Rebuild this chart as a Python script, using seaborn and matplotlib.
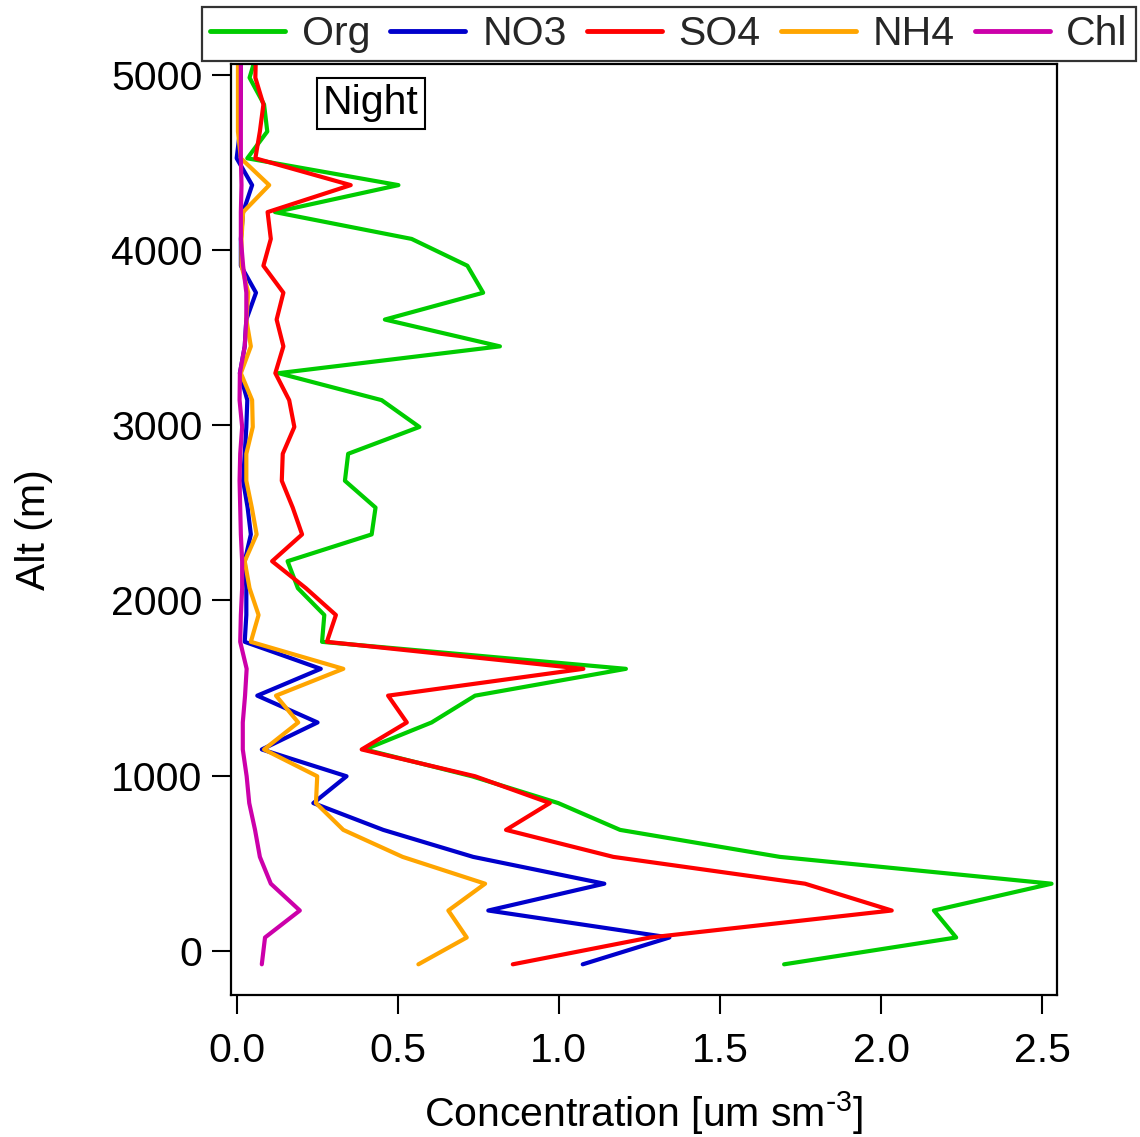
import matplotlib
matplotlib.use("Agg")
import matplotlib.pyplot as plt
import seaborn as sns
import pandas as pd

# Altitude of each profile level (m)
alt = [-76, 77, 231, 384, 537, 691, 844, 997, 1150, 1304, 1457, 1610, 1764, 1917,
       2070, 2224, 2377, 2530, 2683, 2837, 2990, 3143, 3297, 3450, 3603, 3756,
       3910, 4063, 4216, 4370, 4523, 4676, 4830, 4983, 5136]

org = [1.699, 2.233, 2.164, 2.529, 1.686, 1.190, 0.998, 0.730, 0.398, 0.605, 0.740,
       1.208, 0.265, 0.272, 0.190, 0.158, 0.419, 0.431, 0.336, 0.346, 0.567, 0.450,
       0.130, 0.817, 0.460, 0.765, 0.716, 0.543, 0.119, 0.502, 0.033, 0.095, 0.085,
       0.040, 0.065]
no3 = [1.074, 1.343, 0.781, 1.141, 0.734, 0.455, 0.238, 0.341, 0.078, 0.251, 0.064,
       0.261, 0.025, 0.030, 0.030, 0.025, 0.044, 0.034, 0.020, 0.025, 0.030, 0.033,
       0.010, 0.025, 0.030, 0.060, 0.013, 0.013, 0.020, 0.048, 0.000, 0.010, 0.012,
       0.013, 0.013]
so4 = [0.857, 1.283, 2.033, 1.764, 1.169, 0.836, 0.972, 0.740, 0.388, 0.528, 0.470,
       1.076, 0.280, 0.308, 0.215, 0.110, 0.203, 0.174, 0.140, 0.143, 0.179, 0.163,
       0.120, 0.145, 0.124, 0.145, 0.083, 0.106, 0.096, 0.354, 0.058, 0.072, 0.083,
       0.058, 0.060]
nh4 = [0.564, 0.714, 0.657, 0.771, 0.515, 0.331, 0.246, 0.250, 0.085, 0.191, 0.122,
       0.331, 0.044, 0.068, 0.040, 0.025, 0.062, 0.047, 0.030, 0.030, 0.050, 0.048,
       0.013, 0.044, 0.030, 0.036, 0.015, 0.015, 0.020, 0.101, 0.013, 0.004, 0.004,
       0.004, 0.004]
chl = [0.078, 0.088, 0.196, 0.106, 0.072, 0.057, 0.039, 0.031, 0.019, 0.019, 0.026,
       0.031, 0.011, 0.013, 0.017, 0.017, 0.013, 0.011, 0.009, 0.011, 0.017, 0.009,
       0.010, 0.025, 0.030, 0.030, 0.020, 0.013, 0.013, 0.015, 0.013, 0.013, 0.013,
       0.013, 0.013]

species = ["Org", "NO3", "SO4", "NH4", "Chl"]
colors = ["#00CC00", "#0000CC", "#FF0000", "#FFA500", "#CC00AA"]
series = [org, no3, so4, nh4, chl]

xticks = [0.0, 0.5, 1.0, 1.5, 2.0, 2.5]
yticks = [0, 1000, 2000, 3000, 4000, 5000]

rows = []
for name, vals in zip(species, series):
    for a, v in zip(alt, vals):
        rows.append({"Alt": a, "Conc": v, "Species": name})
df = pd.DataFrame(rows)

sns.set_theme(style="white")
plt.rcParams["font.family"] = ["Liberation Sans", "DejaVu Sans"]
plt.rcParams["mathtext.default"] = "regular"

FS = 29.5
fig = plt.figure(figsize=(11.4, 11.37), dpi=100)
ax = fig.add_axes([0.2026, 0.1249, 0.7246, 0.8188])

sns.lineplot(data=df, x="Conc", y="Alt", hue="Species", hue_order=species,
             palette=dict(zip(species, colors)), sort=False, estimator=None,
             orient="y", linewidth=3.0, ax=ax, legend=True)

ax.set_xlim(-0.0177, 2.546)
ax.set_ylim(-251, 5061)
ax.set_xticks(xticks)
ax.set_xticklabels([f"{t:.1f}" for t in xticks])
ax.set_yticks(yticks)
ax.set_yticklabels([str(t) for t in yticks])

for s in ax.spines.values():
    s.set_color("black")
    s.set_linewidth(1.6)
ax.tick_params(axis="both", which="major", direction="out", length=13.5, width=1.5,
               color="black", labelsize=FS, labelcolor="black")
ax.tick_params(axis="x", pad=13)
ax.tick_params(axis="y", pad=7)
ax.tick_params(top=False, right=False, bottom=True, left=True)

ax.set_xlabel(r"Concentration [um sm$^{\text{-}3}$]", fontsize=FS, color="black")
ax.set_ylabel("Alt (m)", fontsize=FS, color="black")
ax.xaxis.set_label_coords(0.5, -0.101)
ax.yaxis.set_label_coords(-0.215, 0.5)

ax.text(0.1695, 0.958, "Night", transform=ax.transAxes, fontsize=FS,
        ha="center", va="center", color="black",
        bbox=dict(boxstyle="square,pad=0.16", fc="white", ec="black", lw=1.5))

ax.get_legend().remove()
handles, labels = ax.get_legend_handles_labels()
leg = fig.legend(handles, labels, loc="upper right", bbox_to_anchor=(0.9965, 0.9938),
                 ncol=5, fontsize=FS, frameon=True, fancybox=False,
                 handlelength=1.83, handletextpad=0.41, columnspacing=0.49,
                 borderpad=0.2, borderaxespad=0.0)
leg.get_frame().set_edgecolor("black")
leg.get_frame().set_linewidth(1.6)
for ln in leg.get_lines():
    ln.set_linewidth(3.5)

fig.savefig("out.png", dpi=100)
